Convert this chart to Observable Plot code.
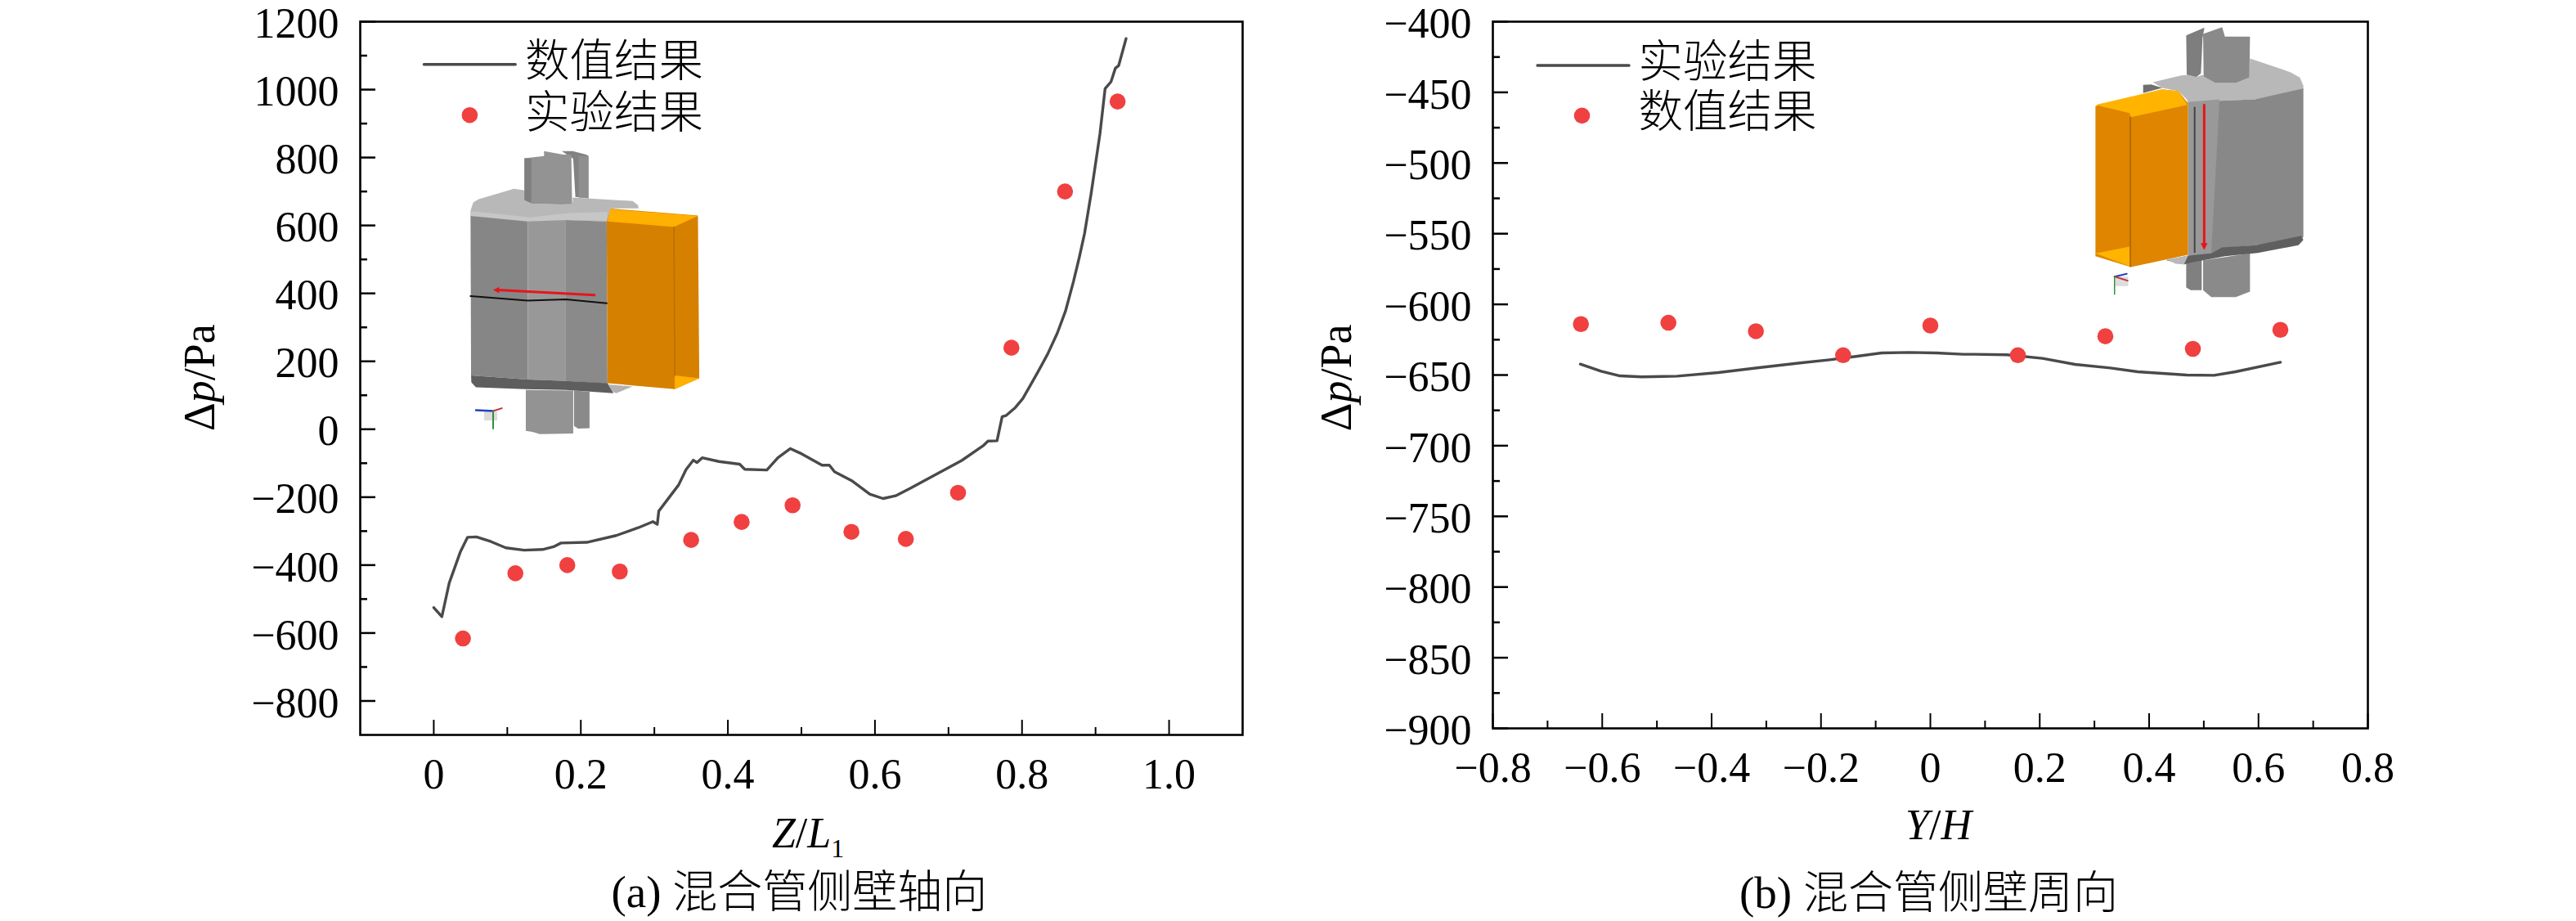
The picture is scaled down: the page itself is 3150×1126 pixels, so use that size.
<!DOCTYPE html>
<html><head><meta charset="utf-8">
<script src="https://cdn.jsdelivr.net/npm/d3@7"></script>
<script src="https://cdn.jsdelivr.net/npm/@observablehq/plot@0.6"></script>
<style>
html,body{margin:0;padding:0;background:#fff;width:3150px;height:1126px;overflow:hidden}
#c{display:flex}
svg{display:block}
</style></head><body><div id="c"></div>
<script>
// Panel (a): axial
const aLineZ=[0,.011,.021,.036,.046,.058,.078,.098,.123,.148,.163,.173,.208,.248,.278,.298,.304,.306,.333,.343,.353,.358,.365,.388,.416,.423,.453,.468,.485,.498,.528,.538,.545,.568,.593,.611,.628,.648,.718,.748,.7537,.766,.773,.778,.791,.801,.811,.822,.835,.848,.859,.870,.878,.885,.894,.906,.913,.921,.927,.9315,.9415];
const aLineP=[-525,-552,-453,-362,-318,-317,-331,-349,-356,-354,-346,-335,-333,-313,-290,-272,-280,-241,-164,-119,-91,-98,-84,-95,-103,-118,-120,-84,-57,-70,-106,-106,-125,-151,-191,-204,-196,-174,-92,-47,-35,-34,37,40,64,90,128,170,222,283,347,435,507,576,694,870,1003,1023,1063,1071,1150];
const aDotZ=[.0397,.111,.1816,.253,.350,.4187,.488,.568,.642,.713,.7856,.8585,.930];
const aDotP=[-616,-424,-400,-419,-326,-273,-224,-302,-323,-187,240,700,965];
const aMajorY=[-800,-600,-400,-200,0,200,400,600,800,1000,1200];
const aMinorY=[-700,-500,-300,-100,100,300,500,700,900,1100];
const aMajorX=[0,.2,.4,.6,.8,1];
const aMinorX=[.1,.3,.5,.7,.9];
const aLegend=["数值结果","实验结果"];
const aCaption="(a) 混合管侧壁轴向";
// Panel (b): circumferential
const bLineY=[-.640,-.602,-.5675,-.5277,-.463,-.388,-.3135,-.2387,-.184,-.139,-.089,-.0395,.0105,.060,.080,.14,.205,.2646,.329,.379,.469,.5187,.558,.640];
const bLineP=[-642.3,-647.3,-650.6,-651.3,-650.8,-648.3,-644.8,-641.5,-639.2,-637,-634.4,-634,-634.4,-635.3,-635.3,-635.7,-638.2,-642.5,-645,-647.7,-650,-650.2,-647.7,-641];
const bDotY=[-.639,-.479,-.319,-.1595,0,.160,.320,.480,.640];
const bDotP=[-614,-613,-619,-636,-615,-636,-622.6,-631.5,-618];
const bMajorY=[-900,-850,-800,-750,-700,-650,-600,-550,-500,-450,-400];
const bMinorY=[-875,-825,-775,-725,-675,-625,-575,-525,-475,-425];
const bMajorX=[-.8,-.6,-.4,-.2,0,.2,.4,.6,.8];
const bMinorX=[-.7,-.5,-.3,-.1,.1,.3,.5,.7];
const bLegend=["实验结果","数值结果"];
const bCaption="(b) 混合管侧壁周向";

// Inset illustration outlines, in a local sketch grid
const aInsetFills=[
 ["#828282",[[380,42],[420,42],[470,55],[478,60],[478,215],[430,210],[422,70]]],
 ["#8f8f8f",[[442,60],[478,60],[478,215],[442,212]]],
 ["#b8b8b8",[[45,260],[55,230],[75,218],[205,180],[243,186],[243,222],[270,235],[380,238],[420,232],[420,212],[640,225],[660,240],[662,252],[560,252],[545,300],[395,295],[265,302],[45,280]]],
 ["#c6c6c6",[[45,262],[265,285],[395,270],[548,265],[545,298],[395,295],[265,302],[45,280]]],
 ["#939393",[[243,68],[315,60],[315,42],[385,55],[415,55],[418,235],[380,238],[270,235],[243,222]]],
 ["#7f7f7f",[[243,68],[268,70],[268,232],[243,222]]],
 ["#868686",[[45,280],[255,300],[255,880],[47,865]]],
 ["#989898",[[255,300],[395,295],[395,885],[255,880]]],
 ["#8a8a8a",[[395,295],[545,300],[548,895],[395,885]]],
 ["#8a8a8a",[[425,920],[482,925],[482,1058],[440,1060],[425,1050]]],
 ["#939393",[[248,918],[422,920],[422,1078],[300,1080],[272,1072],[248,1068]]],
 ["#5e5e5e",[[47,865],[255,880],[395,885],[548,893],[570,930],[395,918],[245,915],[65,908],[48,890]]],
 ["#b2b2b2",[[550,898],[640,905],[580,930],[568,925]]],
 ["#d68000",[[545,300],[560,253],[880,278],[885,875],[795,915],[548,893]]],
 ["#ffb000",[[548,300],[558,255],[880,280],[792,320]]],
 ["#ffb000",[[795,865],[885,875],[795,915]]],
 ["#dcdcdc",[[95,998],[143,998],[143,1030],[95,1030]]],
 ["#e8141c",[[128,551],[150,540],[150,563]]]
];
const aInsetLines=[
 ["#b86e00",1.5,[[792,320],[795,865]]],
 ["#111111",2,[[45,574],[255,590],[395,586],[545,600]]],
 ["#e8141c",3,[[500,570],[145,551]]],
 ["#2040c0",2.5,[[65,992],[128,995]]],
 ["#c03030",2,[[160,985],[128,995]]],
 ["#30903a",2,[[128,995],[128,1060]]]
];
const bInsetFills=[
 ["#6f6f6f",[[0,232],[30,230],[70,243],[0,262]]],
 ["#7e7e7e",[[158,50],[225,22],[218,60],[212,190],[195,203],[160,195]]],
 ["#b8b8b8",[[35,222],[140,197],[165,195],[195,203],[218,195],[265,225],[340,225],[390,205],[392,135],[540,185],[575,205],[588,235],[588,250],[410,285],[280,290],[165,300],[160,285],[130,255],[70,243]]],
 ["#8a8a8a",[[220,45],[290,20],[300,55],[392,55],[390,205],[340,225],[265,225],[222,200]]],
 ["#999999",[[165,295],[280,285],[285,855],[165,858]]],
 ["#888888",[[280,290],[410,285],[588,245],[588,790],[560,820],[415,820],[290,830],[250,850]]],
 ["#808080",[[158,888],[215,875],[215,985],[175,985],[158,975]]],
 ["#8a8a8a",[[220,875],[392,850],[392,990],[340,1010],[250,1010],[220,985]]],
 ["#5f5f5f",[[165,858],[250,850],[290,828],[415,820],[580,785],[588,800],[570,820],[420,848],[300,860],[220,875],[150,890],[85,875]]],
 ["#b8b8b8",[[85,872],[165,858],[150,890],[120,888]]],
 ["#df8500",[[-175,310],[70,248],[130,255],[165,300],[165,855],[-45,900],[-175,860]]],
 ["#ffb400",[[-175,305],[70,248],[130,255],[162,305],[-45,350],[-50,335]]],
 ["#ffb400",[[-175,850],[-50,825],[-48,898]]],
 ["#dddddd",[[-103,935],[-55,935],[-55,970],[-103,970]]],
 ["#e8141c",[[211,812],[236,812],[224,838]]]
];
const bInsetLines=[
 ["#a86400",1.5,[[-47,350],[-47,898]]],
 ["#444444",2,[[189,315],[189,845]]],
 ["#e8141c",3,[[224,305],[224,815]]],
 ["#2040c0",2,[[-105,935],[-60,925]]],
 ["#c03030",2,[[-105,935],[-57,950]]],
 ["#30903a",1.5,[[-105,935],[-105,1000]]]
];

const SERIF='"Liberation Serif","Noto Sans CJK SC",serif';
const minus=s=>String(s).replace("-","−");
const dark="#4a4a4a", red="#f04040";
const zip=(xs,ys)=>xs.map((x,i)=>({x,y:ys[i]}));

function inset(fills,lines,mapX,mapY){
  const pts=p=>p.map(([a,b])=>({x:mapX(a),y:mapY(b)}));
  return [
    ...fills.map(([c,p])=>Plot.line(pts(p),{x:"x",y:"y",fill:c,stroke:"none",curve:"linear"})),
    ...lines.map(([c,w,p])=>Plot.line(pts(p),{x:"x",y:"y",stroke:c,strokeWidth:w,curve:"linear"}))
  ];
}
function panel(o){
  const blank=()=>"";
  return Plot.plot({
    width:1575,height:1126,
    marginLeft:o.ml,marginRight:o.mr,marginTop:26,marginBottom:o.mb,
    style:{fontFamily:SERIF,fontSize:"52px",color:"#000",background:"#fff"},
    x:{domain:o.xd},y:{domain:o.yd},
    marks:[
      ...o.inset,
      Plot.line(zip(o.lx,o.ly),{x:"x",y:"y",stroke:dark,strokeWidth:3.4,curve:"linear"}),
      Plot.dot(zip(o.dx,o.dy),{x:"x",y:"y",r:9.8,fill:red,stroke:"none"}),
      Plot.frame({stroke:"#000",strokeWidth:2.6}),
      Plot.axisY(o.yMaj,{anchor:"left",tickSize:-19,tickFormat:blank,label:null,strokeWidth:2.5}),
      Plot.axisY(o.yMin,{anchor:"left",tickSize:-9,tickFormat:blank,label:null,strokeWidth:2.5}),
      Plot.axisY(o.yMaj,{anchor:"left",tickSize:0,tickPadding:26,dy:3,tickFormat:minus,label:null}),
      Plot.axisX(o.xMaj,{anchor:"bottom",tickSize:-18,tickPadding:47,tickFormat:o.xFormat,label:null,strokeWidth:2}),
      Plot.axisX(o.xMin,{anchor:"bottom",tickSize:-9,tickFormat:blank,label:null,strokeWidth:2}),
      Plot.line(zip(o.legLine,o.legLine.map(()=>o.legLineY)),{x:"x",y:"y",stroke:dark,strokeWidth:3.4}),
      Plot.dot([{x:o.legDot[0],y:o.legDot[1]}],{x:"x",y:"y",r:9.8,fill:red,stroke:"none"}),
      Plot.text(o.legend,{x:o.legX,y:(d,i)=>o.legY[i],text:d=>d,textAnchor:"start",lineAnchor:"middle",fontSize:54.5,fontWeight:300}),
      Plot.text([o.xLabel],{x:o.xLabelPos[0],y:o.xLabelPos[1],text:d=>d,textAnchor:"middle",lineAnchor:"middle"}),
      Plot.text(["Δp/Pa"],{x:o.yLabelPos[0],y:o.yLabelPos[1],text:d=>d,textAnchor:"middle",lineAnchor:"middle",rotate:-90,fontSize:54}),
      Plot.text([o.caption],{x:o.capPos[0],y:o.capPos[1],text:d=>d,textAnchor:"middle",lineAnchor:"middle",fontSize:55,fontWeight:300})
    ]
  });
}
const aPlot=panel({
  ml:440,mr:56,mb:228,xd:[-.1,1.1],yd:[-900,1200],
  lx:aLineZ,ly:aLineP,dx:aDotZ,dy:aDotP,
  yMaj:aMajorY,yMin:aMinorY,xMaj:aMajorX,xMin:aMinorX,
  xFormat:d=>d===0?"0":d3.format(".1f")(d),
  inset:inset(aInsetFills,aInsetLines,u=>((560+u/3)-530)/900,v=>(524-(170+v/3))/.4152),
  legLine:[-.0133,.111],legLineY:1074,legDot:[.0489,925],
  legend:aLegend,legX:.124,legY:[1081,931],
  xLabel:"Z/L1",xLabelPos:[.509,-1190],yLabelPos:[-.318,152],
  caption:aCaption,capPos:[.497,-1365.6]
});
const bPlot=panel({
  ml:250,mr:255,mb:236,xd:[-.8,.8],yd:[-900,-400],
  lx:bLineY,ly:bLineP,dx:bDotY,dy:bDotP,
  yMaj:bMajorY,yMin:bMinorY,xMaj:bMajorX,xMin:bMinorX,
  xFormat:d=>d===0?"0":minus(d3.format(".1f")(d)),
  inset:inset(bInsetFills,bInsetLines,u=>((2620+u/3)-2359.7)/669,v=>-400-(v/3)/1.728),
  legLine:[-.7185,-.551],legLineY:-431,legDot:[-.637,-466.5],
  legend:bLegend,legX:-.534,legY:[-429,-464.5],
  xLabel:"Y/H",xLabelPos:[.015,-969],yLabelPos:[-1.085,-652],
  caption:bCaption,capPos:[-.003,-1017]
});
// Italic / subscript runs inside axis titles
const rich={"Δp/Pa":[["Δ"],["p","i"],["/Pa"]],"Z/L1":[["Z","i"],["/"],["L","i"],["1","s"]],"Y/H":[["Y","i"],["/"],["H","i"]]};
for(const svg of [aPlot,bPlot]){
  svg.querySelectorAll("text").forEach(t=>{
    const r=rich[t.textContent];
    if(!r)return;
    t.textContent="";
    for(const [s,k] of r){
      const e=document.createElementNS("http://www.w3.org/2000/svg","tspan");
      e.textContent=s;
      if(k==="i")e.setAttribute("font-style","italic");
      if(k==="s"){e.setAttribute("font-size","32");e.setAttribute("dy","12");}
      t.appendChild(e);
    }
  });
  document.getElementById("c").appendChild(svg);
}
</script></body></html>
